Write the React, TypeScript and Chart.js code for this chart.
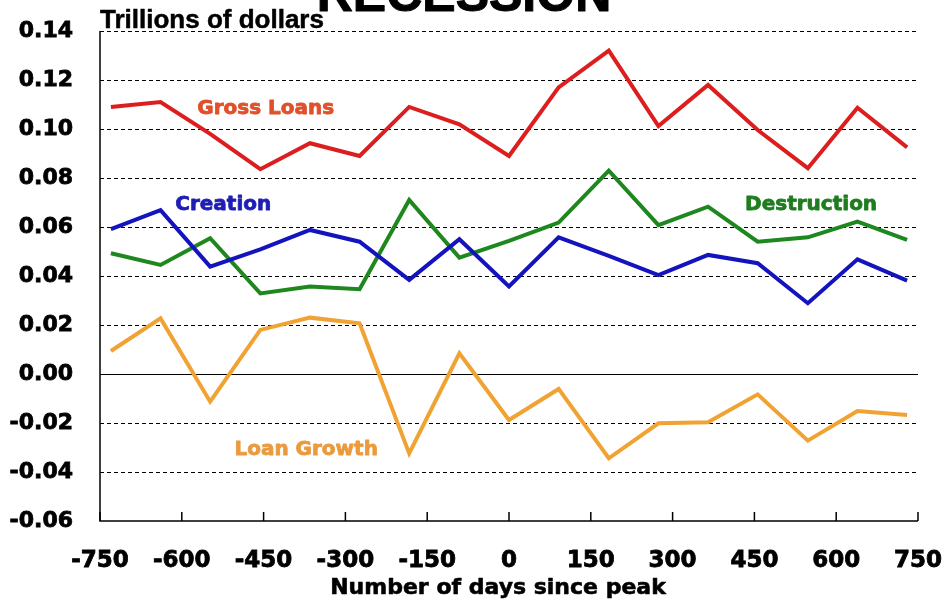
import React, { useEffect, useRef } from "react";
import { Chart, registerables } from "chart.js";

Chart.register(...registerables);

const days = [-730, -639, -548, -456, -365, -274, -183, -91, 0, 91, 183, 274, 365, 456, 548, 639, 730];
const grossLoans = [0.109, 0.111, 0.098, 0.0836, 0.0942, 0.089, 0.109, 0.1019, 0.089, 0.117, 0.132, 0.1012, 0.118, 0.0996, 0.084, 0.1087, 0.0925];
const creation = [0.0591, 0.0669, 0.0438, 0.0509, 0.0588, 0.054, 0.0384, 0.055, 0.0357, 0.0558, 0.0482, 0.0404, 0.0486, 0.0452, 0.0289, 0.0468, 0.0381];
const destruction = [0.0493, 0.0445, 0.0554, 0.0329, 0.0357, 0.0346, 0.071, 0.0475, 0.0543, 0.0618, 0.083, 0.0608, 0.0683, 0.054, 0.0558, 0.0622, 0.0547];
const loanGrowth = [0.0094, 0.0227, -0.0113, 0.018, 0.023, 0.0207, -0.0324, 0.0084, -0.0188, -0.0061, -0.0344, -0.0201, -0.0197, -0.0083, -0.0272, -0.0151, -0.0167];

const seriesNames = ["Gross Loans", "Creation", "Destruction", "Loan Growth"];
const lineColors = ["#dc1e1e", "#1414be", "#1e871e", "#f0a232"];
const labelColors = ["#e0502a", "#1e1eb4", "#1e7d1e", "#eb9a3c"];
const labelDays = [-446, -524, 554, -372];
const labelValues = [0.1092, 0.0698, 0.0698, -0.0302];

const title = "RECESSION";
const yUnit = "Trillions of dollars";
const xTitle = "Number of days since peak";

const Y_MIN = -0.06;
const Y_MAX = 0.14;
const X_MIN = -750;
const X_MAX = 750;

function heavyText(ctx: any, text: string, x: number, y: number, color: string, stroke: number) {
  ctx.fillStyle = color;
  ctx.strokeStyle = color;
  ctx.lineWidth = stroke;
  ctx.lineJoin = "round";
  ctx.fillText(text, x, y);
  if (stroke > 0) ctx.strokeText(text, x, y);
}

const overlay = {
  id: "overlay",
  beforeDatasetsDraw(chart: any) {
    const { ctx, chartArea, scales } = chart;
    const x = scales.x;
    const y = scales.y;
    ctx.save();
    y.ticks.forEach((t: any) => {
      const v = t.value;
      if (Math.abs(v - Y_MIN) < 1e-9) return;
      const py = Math.round(y.getPixelForValue(v)) + 0.5;
      ctx.beginPath();
      ctx.lineWidth = 1;
      ctx.strokeStyle = "#000";
      if (Math.abs(v) < 1e-9) ctx.setLineDash([]);
      else ctx.setLineDash([4, 3]);
      ctx.moveTo(chartArea.left, py);
      ctx.lineTo(chartArea.right, py);
      ctx.stroke();
    });
    ctx.setLineDash([]);
    ctx.lineWidth = 1.5;
    ctx.strokeStyle = "#000";
    ctx.beginPath();
    ctx.moveTo(chartArea.left, chartArea.top);
    ctx.lineTo(chartArea.left, chartArea.bottom);
    ctx.lineTo(chartArea.right, chartArea.bottom);
    ctx.stroke();
    x.ticks.forEach((t: any) => {
      const px = x.getPixelForValue(t.value);
      ctx.beginPath();
      ctx.moveTo(px, chartArea.bottom);
      ctx.lineTo(px, chartArea.bottom - 9);
      ctx.stroke();
    });
    ctx.restore();
  },
  afterDraw(chart: any) {
    const { ctx, scales, chartArea } = chart;
    const x = scales.x;
    const y = scales.y;
    ctx.save();
    ctx.textBaseline = "alphabetic";
    ctx.textAlign = "center";
    ctx.font = "bold 50px 'Liberation Sans', Arial, sans-serif";
    heavyText(ctx, title, 464, 11, "#000", 1);
    ctx.textAlign = "left";
    ctx.font = "bold 26px 'Liberation Sans', Arial, sans-serif";
    heavyText(ctx, yUnit, chartArea.left, 28, "#000", 0.5);
    ctx.textAlign = "center";
    ctx.font = "bold 22px 'DejaVu Sans', sans-serif";
    heavyText(ctx, xTitle, 498, 594, "#000", 0.6);
    ctx.font = "bold 20px 'DejaVu Sans', sans-serif";
    seriesNames.forEach((name, i) => {
      const px = x.getPixelForValue(labelDays[i]);
      const py = y.getPixelForValue(labelValues[i]);
      heavyText(ctx, name, px, py + 7.3, labelColors[i], 0.8);
    });
    ctx.restore();
  },
};

export default function App() {
  const ref = useRef<HTMLCanvasElement | null>(null);
  useEffect(() => {
    document.body.style.margin = "0";
    const canvas = ref.current!;
    const seriesValues = [grossLoans, creation, destruction, loanGrowth];
    const chart = new Chart(canvas, {
      type: "line",
      data: {
        datasets: seriesValues.map((vals, i) => ({
          label: seriesNames[i],
          data: vals.map((v, j) => ({ x: days[j], y: v })),
          borderColor: lineColors[i],
          backgroundColor: lineColors[i],
          borderWidth: 4,
          pointRadius: 0,
          tension: 0,
          fill: false,
        })),
      },
      options: {
        animation: false,
        responsive: false,
        maintainAspectRatio: false,
        layout: { padding: { top: 31, right: 29, left: 0, bottom: 0 } },
        plugins: { legend: { display: false }, tooltip: { enabled: false } },
        scales: {
          x: {
            type: "linear",
            min: X_MIN,
            max: X_MAX,
            grid: { display: false },
            border: { display: false },
            ticks: {
              stepSize: 150,
              color: "#000",
              padding: 18,
              maxRotation: 0,
              autoSkip: false,
              textStrokeColor: "#000",
              textStrokeWidth: 0.8,
              font: { family: "'DejaVu Sans', sans-serif", size: 23, weight: "bold" },
            },
            afterFit(scale: any) {
              scale.height = 85;
              scale.paddingLeft = 0;
              scale.paddingRight = 0;
            },
          },
          y: {
            type: "linear",
            min: Y_MIN,
            max: Y_MAX,
            grid: { display: false },
            border: { display: false },
            ticks: {
              stepSize: 0.02,
              color: "#000",
              padding: 19,
              textStrokeColor: "#000",
              textStrokeWidth: 0.8,
              font: { family: "'DejaVu Sans', sans-serif", size: 22, weight: "bold" },
              callback: (v: any) => Number(v).toFixed(2),
            },
            afterFit(scale: any) {
              scale.width = 100;
              scale.paddingTop = 0;
              scale.paddingBottom = 0;
            },
          },
        },
      },
      plugins: [overlay],
    });
    return () => chart.destroy();
  }, []);
  return <canvas ref={ref} width={947} height={606} style={{ display: "block", width: 947, height: 606 }} />;
}
